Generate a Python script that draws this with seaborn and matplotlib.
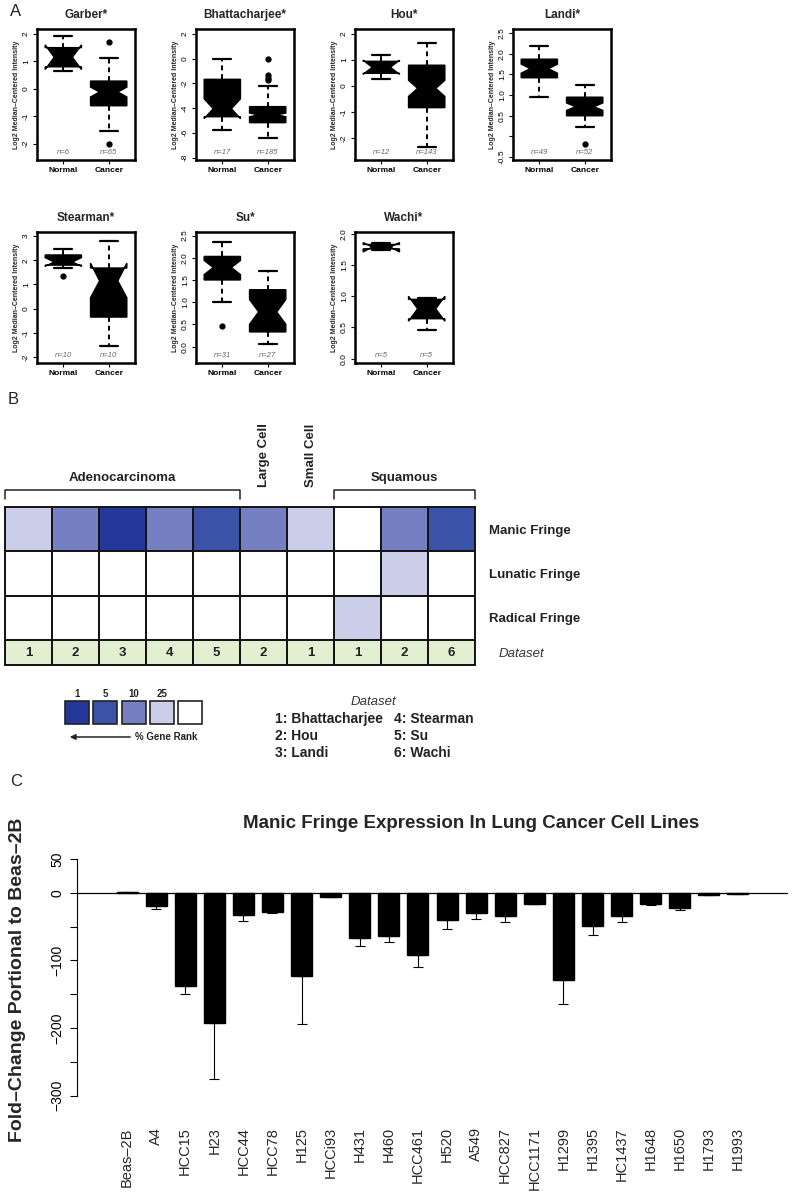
import numpy as np
import pandas as pd
import matplotlib
matplotlib.use("Agg")
import matplotlib.pyplot as plt
import seaborn as sns
from matplotlib.colors import ListedColormap

# ---------------- Panel A data (box-plot summary statistics) ----------------
datasets = ["Garber", "Bhattacharjee", "Hou", "Landi", "Stearman", "Su", "Wachi"]
groups = ["Normal", "Cancer"]
n_normal = [6, 17, 12, 49, 10, 31, 5]
n_cancer = [65, 185, 143, 52, 10, 27, 5]

normal_whislo = [0.65, -5.76, 0.26, 0.95, 1.68, 1.01, 1.74]
normal_q1     = [0.80, -4.70, 0.49, 1.42, 1.80, 1.50, 1.76]
normal_med    = [1.15, -4.05, 0.72, 1.64, 1.93, 1.78, 1.79]
normal_q3     = [1.50, -1.67, 0.95, 1.87, 2.22, 2.03, 1.83]
normal_whishi = [1.91, 0.00, 1.19, 2.18, 2.47, 2.35, 1.85]
normal_cilo   = [0.70, -4.85, 0.45, 1.53, 1.75, 1.62, 1.71]
normal_cihi   = [1.60, -3.25, 0.99, 1.75, 2.11, 1.94, 1.86]
normal_fliers = [[], [], [], [], [1.35], [0.47], []]

cancer_whislo = [-1.53, -6.40, -2.34, 0.24, -1.55, 0.06, 0.46]
cancer_q1     = [-0.62, -5.18, -0.83, 0.50, -0.35, 0.33, 0.64]
cancer_med    = [-0.12, -4.55, -0.09, 0.72, 1.15, 0.78, 0.80]
cancer_q3     = [0.28, -3.88, 0.80, 0.95, 1.68, 1.28, 0.95]
cancer_whishi = [1.11, -2.20, 1.65, 1.24, 2.78, 1.70, 0.97]
cancer_cilo   = [-0.30, -4.70, -0.40, 0.63, 0.45, 0.50, 0.60]
cancer_cihi   = [0.06, -4.40, 0.22, 0.81, 1.88, 1.06, 1.00]
cancer_fliers = [[1.69, -2.02], [0.0, -1.35, -1.55, -1.75], [], [-0.18], [], [], []]

ylims = [(-2.6, 2.18), (-8.2, 2.4), (-2.84, 2.19), (-0.57, 2.6),
         (-2.25, 3.17), (-0.37, 2.58), (-0.07, 2.03)]
yticks_list = [[-2, -1, 0, 1, 2], [-8, -6, -4, -2, 0, 2], [-2, -1, 0, 1, 2],
               [-0.5, 0, 0.5, 1.0, 1.5, 2.0, 2.5], [-2, -1, 0, 1, 2, 3],
               [0, 0.5, 1.0, 1.5, 2.0, 2.5], [0, 0.5, 1.0, 1.5, 2.0]]
ytick_labels_list = [["-2", "-1", "0", "1", "2"], ["-8", "-6", "-4", "-2", "0", "2"],
                     ["-2", "-1", "0", "1", "2"],
                     ["-0.5", "", "0.5", "1.0", "1.5", "2.0", "2.5"],
                     ["-2", "-1", "0", "1", "2", "3"],
                     ["0.0", "0.5", "1.0", "1.5", "2.0", "2.5"],
                     ["0.0", "0.5", "1.0", "1.5", "2.0"]]

# ---------------- Panel B data ----------------
column_groups = ["Adenocarcinoma", "Large Cell", "Small Cell", "Squamous"]
genes = ["Manic Fringe", "Lunatic Fringe", "Radical Fringe"]
manic_rank   = [25, 10, 1, 10, 5, 10, 25, 100, 10, 5]
lunatic_rank = [100, 100, 100, 100, 100, 100, 100, 100, 25, 100]
radical_rank = [100, 100, 100, 100, 100, 100, 100, 25, 100, 100]
dataset_ids  = [1, 2, 3, 4, 5, 2, 1, 1, 2, 6]
rank_levels  = [1, 5, 10, 25, 100]
rank_level_labels = ["1", "5", "10", "25", ""]
rank_colors  = ["#24389A", "#3A52A7", "#7480C1", "#CBCEE8", "#FFFFFF"]
dataset_names = ["1: Bhattacharjee", "2: Hou", "3: Landi", "4: Stearman", "5: Su", "6: Wachi"]

# ---------------- Panel C data ----------------
cell_lines = ["Beas–2B", "A4", "HCC15", "H23", "HCC44", "HCC78", "H125", "HCCi93",
              "H431", "H460", "HCC461", "H520", "A549", "HCC827", "HCC1171", "H1299",
              "H1395", "HC1437", "H1648", "H1650", "H1793", "H1993"]
fold_change = [1, -20, -138, -192, -33, -28, -123, -6, -67, -64, -92, -40, -29, -34,
               -16, -129, -49, -34, -17, -22, -3, -2]
fold_err = [0, 4, 12, 83, 8, 1, 71, 0, 11, 9, 17, 14, 10, 9, 1, 35, 13, 9, 1, 3, 0, 0]

# ---------------- Figure ----------------
sns.set_theme(style="white")
plt.rcParams["font.family"] = ["Liberation Sans", "DejaVu Sans"]
W, H = 800, 1201
fig = plt.figure(figsize=(W / 100, H / 100), dpi=100)
fig.patch.set_facecolor("white")


def px_axes(x0, y0, x1, y1):
    return fig.add_axes([x0 / W, 1 - y1 / H, (x1 - x0) / W, (y1 - y0) / H])


# ---- Panel A ----
col_left = [37, 196, 355, 513]
box_w = 98
row_top = [29, 232]
box_h = 131
for k, name in enumerate(datasets):
    r, c = divmod(k, 4)
    x0, y0 = col_left[c], row_top[r]
    ax = px_axes(x0, y0, x0 + box_w, y0 + box_h)
    stats = [
        dict(label=groups[0], whislo=normal_whislo[k], q1=normal_q1[k], med=normal_med[k],
             q3=normal_q3[k], whishi=normal_whishi[k], cilo=normal_cilo[k],
             cihi=normal_cihi[k], fliers=normal_fliers[k]),
        dict(label=groups[1], whislo=cancer_whislo[k], q1=cancer_q1[k], med=cancer_med[k],
             q3=cancer_q3[k], whishi=cancer_whishi[k], cilo=cancer_cilo[k],
             cihi=cancer_cihi[k], fliers=cancer_fliers[k]),
    ]
    ax.bxp(stats, positions=[1, 2], widths=0.8, shownotches=True, patch_artist=True,
           capwidths=0.4,
           boxprops=dict(facecolor="black", edgecolor="black", linewidth=1),
           whiskerprops=dict(color="black", linestyle=(0, (2.5, 2)), linewidth=1.4),
           capprops=dict(color="black", linewidth=1.6),
           medianprops=dict(color="black", linewidth=1),
           flierprops=dict(marker="o", markerfacecolor="black", markeredgecolor="black",
                           markersize=3.5))
    ax.set_xlim(0.42, 2.58)
    ax.set_ylim(*ylims[k])
    ax.set_yticks(yticks_list[k])
    ax.set_yticklabels(ytick_labels_list[k], rotation=90, va="center", fontsize=6)
    ax.set_xticks([1, 2])
    ax.set_xticklabels(groups, fontsize=6, fontweight="bold")
    ax.tick_params(axis="both", which="both", bottom=True, left=True, direction="out",
                   length=3, width=0.8, colors="black", pad=2)
    for sp in ax.spines.values():
        sp.set_visible(True)
        sp.set_color("black")
        sp.set_linewidth(1.8)
    ax.set_title(name + "*", fontsize=8.5, fontweight="bold", pad=8)
    ax.set_ylabel("Log2 Median–Centered Intensity", fontsize=5, fontweight="bold", labelpad=2)
    for i, n in zip([1, 2], [n_normal[k], n_cancer[k]]):
        ax.text(i, 0.03, f"n={n}", transform=ax.get_xaxis_transform(), ha="center",
                va="bottom", fontsize=5.5, style="italic", color="#666666")

# ---- Panel B ----
rank_df = pd.DataFrame([[rank_levels.index(v) for v in row]
                        for row in (manic_rank, lunatic_rank, radical_rank)], index=genes)
ax_hm = px_axes(5, 507, 475, 640)
sns.heatmap(rank_df, cmap=ListedColormap(rank_colors), vmin=-0.5, vmax=4.5, cbar=False,
            linewidths=1.3, linecolor="#151515", xticklabels=False, yticklabels=True, ax=ax_hm)
ax_hm.yaxis.tick_right()
ax_hm.set_yticklabels(genes, rotation=0, fontsize=9.5, fontweight="bold", color="#222222")
ax_hm.tick_params(axis="y", length=0, pad=10, right=False)
for sp in ax_hm.spines.values():
    sp.set_visible(True)
    sp.set_color("#151515")
    sp.set_linewidth(1.4)

# group brackets and labels (in heatmap data coordinates)
bracket_spans = [(0, 5), (7, 10)]
bracket_texts = [column_groups[0], column_groups[3]]
for (a, b), t in zip(bracket_spans, bracket_texts):
    ax_hm.plot([a, a, b, b], [-0.18, -0.38, -0.38, -0.18], color="#222222", lw=1.1,
               clip_on=False)
    ax_hm.text((a + b) / 2, -0.65, t, ha="center", va="center", fontsize=9.5,
               fontweight="bold", color="#222222", clip_on=False)
for col, t in [(5.5, column_groups[1]), (6.5, column_groups[2])]:
    ax_hm.text(col, -0.45, t, rotation=90, ha="center", va="bottom", fontsize=9.5,
               fontweight="bold", color="#222222", clip_on=False)

ds_df = pd.DataFrame([dataset_ids], index=["Dataset"])
ax_ds = px_axes(5, 640, 475, 665)
sns.heatmap(ds_df, cmap=ListedColormap(["#E2EFD0"]), cbar=False, annot=True, fmt="d",
            annot_kws=dict(fontsize=9.5, fontweight="bold", color="#222222"),
            linewidths=1.3, linecolor="#151515", xticklabels=False, yticklabels=True, ax=ax_ds)
ax_ds.yaxis.tick_right()
ax_ds.set_yticklabels(["Dataset"], rotation=0, fontsize=9.5, style="italic", color="#333333")
ax_ds.tick_params(axis="y", length=0, pad=17, right=False)
for sp in ax_ds.spines.values():
    sp.set_visible(True)
    sp.set_color("#151515")
    sp.set_linewidth(1.4)

# ---- Panel C ----
ax_c = px_axes(77, 845, 788, 1105)
sns.barplot(x=cell_lines, y=fold_change, color="black", width=0.72, saturation=1,
            edgecolor="black", ax=ax_c)
pos = np.arange(len(cell_lines))
ax_c.errorbar(pos, fold_change, yerr=[fold_err, np.zeros(len(fold_err))], fmt="none",
              ecolor="black", elinewidth=0.8, capsize=3.6, capthick=0.8)
ax_c.axhline(0, color="black", lw=0.9)
ax_c.set_xlim(-1.72, 22.72)
ax_c.set_ylim(-314, 71)
ax_c.set_yticks([50, 0, -50, -100, -150, -200, -250, -300])
ax_c.set_yticklabels(["50", "0", "", "−100", "", "−200", "", "−300"], rotation=90,
                     va="center", fontsize=10)
ax_c.set_xticks(pos)
ax_c.set_xticklabels(cell_lines, rotation=90, fontsize=10.5, va="top")
ax_c.tick_params(axis="x", bottom=False, length=0, pad=16)
ax_c.tick_params(axis="y", left=True, direction="out", length=5, width=0.8, pad=4,
                 colors="black")
for s in ["top", "right", "bottom"]:
    ax_c.spines[s].set_visible(False)
ax_c.spines["left"].set_visible(True)
ax_c.spines["left"].set_color("black")
ax_c.spines["left"].set_linewidth(0.8)
ax_c.spines["left"].set_bounds(-300, 50)
ax_c.set_facecolor("none")
ax_c.set_title("Manic Fringe Expression In Lung Cancer Cell Lines", fontsize=13.5,
               fontweight="bold", x=0.554, pad=12)
ax_c.set_ylabel("Fold–Change Portional to Beas–2B", fontsize=14, fontweight="bold")
ax_c.yaxis.set_label_coords(-0.072, 0.48)

# ---- Overlay: panel letters and panel B legend ----
ov = fig.add_axes([0, 0, 1, 1], facecolor="none")
ov.set_xlim(0, W)
ov.set_ylim(H, 0)
ov.axis("off")
for letter, (lx, ly) in zip("ABC", [(10, 12), (8, 400), (10, 782)]):
    ov.text(lx, ly, letter, fontsize=12, ha="left", va="center", color="#222222")

sq_left = [65, 93, 122, 150, 178]
for x, colr, lab in zip(sq_left, rank_colors, rank_level_labels):
    ov.add_patch(plt.Rectangle((x, 701), 24, 23, facecolor=colr, edgecolor="#222222", lw=1.2))
    if lab:
        ov.text(x + 12, 694, lab, ha="center", va="center", fontsize=7, fontweight="bold",
                color="#222222")
ov.annotate("", xy=(67, 737), xytext=(133, 737),
            arrowprops=dict(arrowstyle="-|>", color="#222222", lw=1.1, mutation_scale=8))
ov.text(135, 737, "% Gene Rank", ha="left", va="center", fontsize=7, fontweight="bold",
        color="#222222")
ov.text(373, 702, "Dataset", ha="center", va="center", fontsize=9.5, style="italic",
        color="#333333")
for j, nm in enumerate(dataset_names):
    cx = 275 if j < 3 else 394
    cy = 719 + 17 * (j % 3)
    ov.text(cx, cy, nm, ha="left", va="center", fontsize=10, fontweight="bold",
            color="#222222")

fig.savefig("out.png", dpi=100, facecolor="white")
